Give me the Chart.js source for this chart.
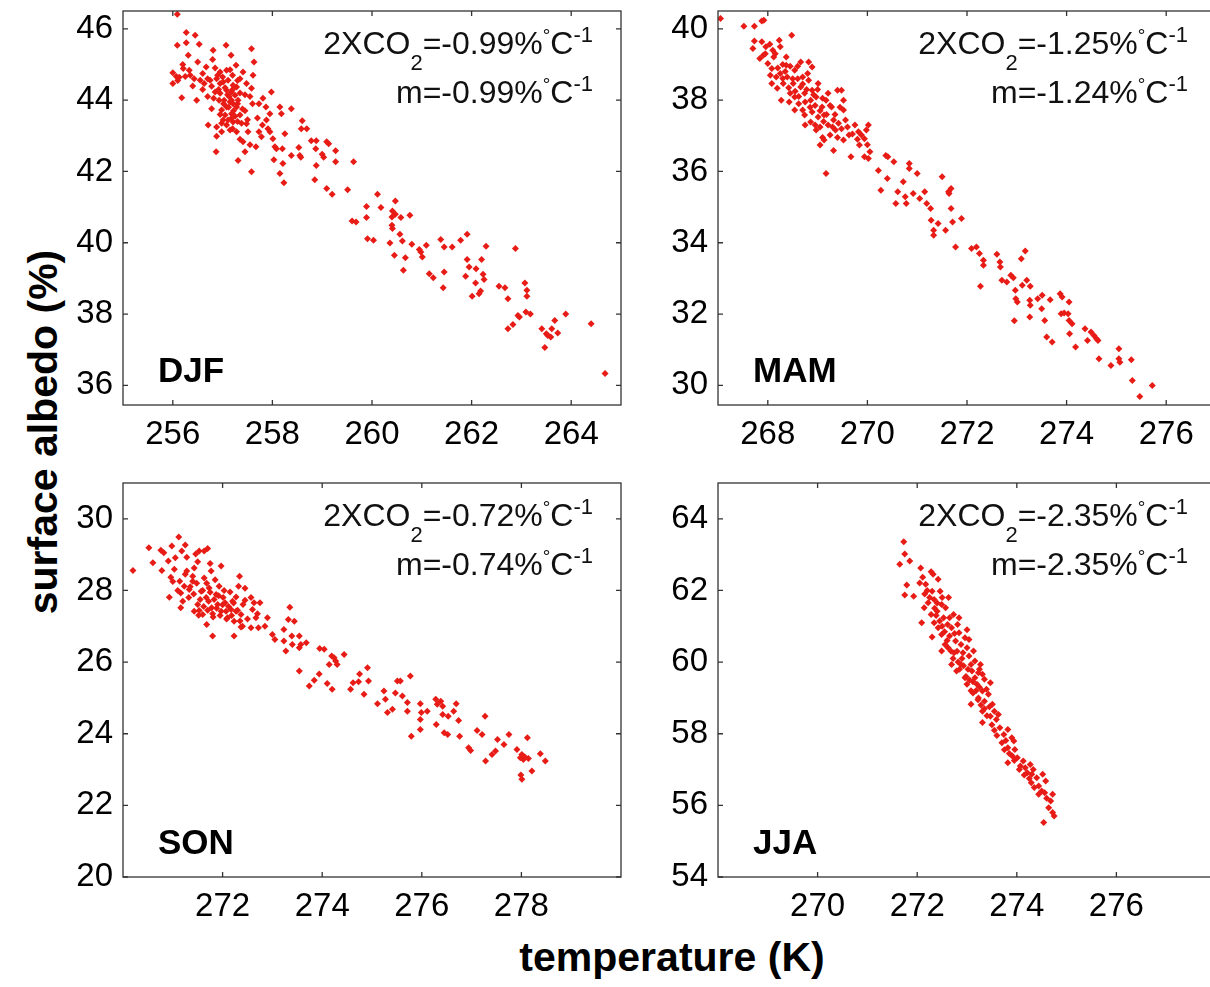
<!DOCTYPE html>
<html>
<head>
<meta charset="utf-8">
<script src="https://cdn.jsdelivr.net/npm/chart.js@4.4.1/dist/chart.umd.min.js"></script>
<style>
  html, body { margin: 0; padding: 0; background: #fff; overflow: hidden; }
  #fig { position: relative; width: 1210px; height: 987px; overflow: hidden; background: #fff; }
  #fig canvas { position: absolute; }
  .axis-title {
    position: absolute;
    font: bold 41px 'Liberation Sans', Arial, sans-serif;
    line-height: 41px;
    white-space: nowrap;
    color: #000;
  }
  #ylab { left: 43px; top: 432px; transform: translate(-50%, -50%) rotate(-90deg); }
  #xlab { left: 672px; top: 957px; transform: translate(-50%, -50%); }
</style>
</head>
<body>
<div id="fig">
  <div class="axis-title" id="ylab">surface albedo (%)</div>
  <div class="axis-title" id="xlab">temperature (K)</div>
</div>
<script>
// tick labels per panel
const djfTicksX = [256, 258, 260, 262, 264];
const djfTicksY = [36, 38, 40, 42, 44, 46];
const mamTicksX = [268, 270, 272, 274, 276];
const mamTicksY = [30, 32, 34, 36, 38, 40];
const sonTicksX = [272, 274, 276, 278];
const sonTicksY = [20, 22, 24, 26, 28, 30];
const jjaTicksX = [270, 272, 274, 276];
const jjaTicksY = [54, 56, 58, 60, 62, 64];

// regression slopes (% per degC)
const co2Slopes = { DJF: '-0.99', MAM: '-1.25', SON: '-0.72', JJA: '-2.35' };
const mSlopes = { DJF: '-0.99', MAM: '-1.24', SON: '-0.74', JJA: '-2.35' };

// [temperature K, surface albedo %]
const djfPoints = [
  [256.09,46.41],[256.27,45.90],[256.45,45.82],[256.09,45.54],[256.27,45.61],[256.53,45.57],[257.07,45.54],[257.58,45.44],
  [256.31,45.26],[257.17,45.26],[256.81,45.40],[257.63,45.07],[256.50,45.07],[256.67,44.93],[256.80,45.14],[256.00,44.77],
  [256.00,44.47],[256.13,44.64],[256.21,44.89],[256.33,44.84],[256.18,44.07],[256.43,44.60],[256.48,44.00],[256.63,44.47],
  [256.78,44.39],[256.95,44.79],[257.01,44.51],[256.85,44.23],[256.93,44.00],[257.08,44.28],[257.18,44.00],[257.28,44.37],
  [257.35,44.60],[257.48,44.47],[257.58,44.33],[257.08,44.84],[257.20,44.70],[257.27,44.98],[257.41,44.79],[257.61,44.70],
  [256.88,44.60],[256.98,43.72],[257.08,43.81],[257.18,43.62],[257.28,43.81],[257.35,43.58],[257.21,43.39],[257.11,43.44],
  [257.05,43.58],[256.78,43.76],[256.71,43.30],[256.88,43.25],[256.98,43.11],[257.15,43.16],[257.28,43.11],[257.48,43.34],
  [257.51,43.11],[257.41,42.83],[256.88,42.99],[256.87,42.55],[257.31,42.31],[257.45,42.55],[257.58,41.99],[257.67,42.69],
  [257.73,43.11],[257.80,43.30],[257.81,44.05],[257.87,43.81],[257.95,43.62],[257.98,44.23],[257.73,43.90],[257.88,43.44],
  [257.91,43.20],[257.95,43.11],[257.78,42.97],[258.01,42.92],[258.05,42.69],[258.08,42.64],[258.15,43.81],[258.18,43.62],
  [258.25,43.06],[258.20,42.64],[258.03,42.33],[258.21,42.22],[258.15,41.94],[258.23,41.68],[258.38,43.76],[258.38,42.45],
  [258.55,42.45],[258.57,42.40],[258.60,43.42],[258.58,43.20],[258.69,43.20],[258.53,42.67],[258.78,42.86],[258.88,42.86],
  [258.87,42.64],[258.88,42.17],[258.85,41.77],[259.00,42.48],[259.03,42.40],[259.09,42.83],[259.13,42.78],[259.27,42.58],
  [259.27,42.27],[259.09,41.52],[259.20,41.36],[259.51,41.49],[259.63,42.27],[259.60,40.61],[259.68,40.58],[259.89,41.02],
  [259.89,40.71],[260.11,41.36],[260.18,40.99],[259.91,40.11],[260.03,40.07],[260.47,41.17],[260.41,40.89],[260.40,40.72],
  [260.47,40.80],[260.40,40.49],[260.41,40.40],[260.58,40.71],[260.76,40.77],[260.56,40.24],[260.61,40.05],[260.36,39.99],
  [260.80,39.96],[260.45,39.65],[260.67,39.58],[260.63,39.23],[260.95,39.81],[260.98,39.74],[261.01,39.60],[261.09,39.93],
  [261.15,39.13],[261.23,39.02],[261.38,40.09],[261.45,39.88],[261.61,39.88],[261.45,39.18],[261.43,38.74],[261.78,40.07],
  [261.91,40.24],[261.91,39.53],[261.95,39.32],[261.88,39.06],[262.09,39.27],[262.20,39.53],[262.23,39.12],[262.25,38.97],
  [262.08,38.87],[262.18,38.65],[262.15,38.57],[262.01,38.50],[262.29,39.90],[262.55,38.78],[262.67,38.74],[262.73,38.43],
  [262.88,39.84],[263.07,38.87],[263.11,38.67],[263.11,38.50],[262.93,37.96],[262.96,37.92],[262.73,37.59],[262.83,37.71],
  [263.09,38.06],[263.18,38.00],[263.41,37.59],[263.47,37.06],[263.50,37.45],[263.53,37.40],[263.59,37.36],[263.61,37.59],
  [263.67,37.82],[263.73,37.47],[263.89,38.00],[264.40,37.73],[264.68,36.33],
  [256.95,44.19],[257.03,44.00],[257.13,44.10],[257.21,43.90],[257.25,44.14],[257.18,44.23],[257.31,44.00],[257.01,43.44],
  [257.18,43.49],[256.95,44.47],[257.11,44.56],[257.21,44.42],[256.75,44.56],[256.55,44.56],[256.25,44.66],[256.07,44.66],
  [256.85,44.90],[256.90,44.70],[256.92,44.30],[257.00,44.65],[257.05,44.35],[257.10,44.15],[257.15,43.95],[257.20,44.30],
  [257.22,43.70],[257.25,43.55],[257.30,43.90],[257.35,44.20],[257.40,43.75],[257.12,43.80],[257.02,43.90],[256.95,43.60],
  [257.08,43.30],[257.30,43.40],[257.38,43.35],[257.45,43.70],[256.82,44.05],[256.70,44.10],[256.60,44.30],[256.40,44.40],
  [256.35,44.70],[256.10,44.55],[256.20,45.00],[256.60,44.75],[256.70,44.60],[257.55,44.10],[257.60,43.90],[257.50,43.45],
  [257.15,44.85],[257.30,44.55],[257.45,44.15],[256.98,43.35],[257.20,43.20],[257.35,42.90],[257.55,42.75],[257.70,43.50]
];

const mamPoints = [
  [267.05,40.29],[267.52,40.07],[267.73,40.07],[267.88,40.22],[267.92,40.24],[267.73,39.66],[267.70,39.45],[267.88,39.64],
  [267.96,39.50],[268.04,39.57],[268.23,39.68],[268.25,39.50],[268.48,39.82],[267.84,39.17],[267.91,39.26],[268.00,39.03],
  [268.12,39.21],[268.08,38.89],[268.37,39.21],[268.37,38.98],[268.54,38.84],[268.66,39.07],[268.82,39.07],[268.89,38.93],
  [268.08,38.47],[268.17,38.65],[268.19,38.33],[268.30,38.61],[268.31,38.47],[268.39,38.65],[268.51,38.47],[268.45,38.19],
  [268.27,38.00],[268.43,37.95],[268.54,38.09],[268.66,38.37],[268.70,38.65],[268.74,38.19],[268.62,37.90],[268.86,38.00],
  [268.89,38.28],[268.97,38.09],[269.01,38.47],[268.82,38.56],[268.54,37.72],[268.70,37.72],[268.74,37.58],[268.89,37.67],
  [268.86,37.39],[269.01,37.53],[269.05,37.25],[268.97,37.16],[269.13,37.58],[269.17,38.00],[269.21,38.19],[269.09,37.81],
  [269.28,37.81],[269.40,38.28],[269.48,38.28],[269.32,37.44],[269.21,37.30],[269.36,37.16],[269.25,37.02],[269.13,36.88],
  [269.05,36.74],[269.17,35.94],[269.52,38.00],[269.52,37.72],[269.56,37.44],[269.48,37.20],[269.63,37.02],[269.52,36.88],
  [269.32,36.59],[269.67,36.41],[269.75,37.30],[269.82,37.11],[269.88,37.02],[269.98,37.16],[270.02,37.30],[269.94,36.92],
  [269.84,36.74],[269.94,36.41],[270.02,36.36],[270.05,36.55],[270.22,36.03],[270.37,36.45],[270.41,36.41],[270.27,35.47],
  [270.40,35.80],[270.53,36.27],[270.61,35.43],[270.57,35.10],[270.72,35.71],[270.76,35.29],[270.78,35.10],[270.84,36.22],
  [270.84,36.08],[271.00,35.94],[270.92,35.38],[271.05,35.24],[271.15,35.43],[271.19,35.10],[271.27,34.96],[271.28,34.63],
  [271.33,34.35],[271.33,34.21],[271.42,34.54],[271.50,35.85],[271.57,34.35],[271.63,35.43],[271.64,35.38],[271.68,34.96],
  [271.71,34.58],[271.68,35.52],[271.89,34.68],[271.77,33.88],[272.09,33.84],[272.19,33.88],[272.25,33.70],[272.33,33.51],
  [272.33,33.37],[272.27,32.78],[272.60,33.68],[272.66,33.46],[272.67,33.32],[272.70,32.95],[272.80,32.90],[272.88,33.09],
  [272.93,33.02],[272.97,32.67],[272.98,32.43],[273.01,32.34],[272.95,31.81],[273.09,33.55],[273.17,33.77],[273.11,32.81],
  [273.20,32.95],[273.27,32.78],[273.26,32.39],[273.27,32.25],[273.26,31.92],[273.42,32.43],[273.51,32.53],[273.50,32.15],
  [273.56,31.82],[273.60,31.36],[273.71,31.22],[273.67,32.40],[273.87,32.57],[273.91,32.48],[273.89,32.01],[273.95,32.03],
  [274.05,32.34],[274.03,32.01],[274.05,31.82],[274.11,31.73],[274.06,31.45],[274.18,31.08],[274.37,31.59],[274.42,31.26],
  [274.49,31.50],[274.55,31.40],[274.60,31.31],[274.63,31.26],[274.65,30.75],[274.89,30.56],[275.05,31.03],[275.05,30.75],
  [275.07,30.65],[275.30,30.72],[275.32,30.14],[275.47,29.69],[275.72,30.00],
  [268.15,39.30],[268.20,38.90],[268.25,38.75],[268.35,38.80],[268.42,38.35],[268.50,38.60],[268.55,38.25],[268.60,38.60],
  [268.62,38.10],[268.70,38.45],[268.75,37.95],[268.78,38.30],[268.80,38.75],[268.85,37.80],[268.92,38.15],[268.95,37.85],
  [269.00,38.30],[269.05,37.70],[269.10,38.05],[269.12,37.40],[269.18,37.60],[269.25,37.85],[269.30,37.25],[269.35,37.60],
  [269.42,37.35],[269.45,37.80],[269.60,37.25],[269.70,37.05],[268.45,38.95],[268.60,38.95],[268.30,39.00],[268.10,39.40],
  [267.95,39.30],[268.05,38.70],[268.95,37.30],[269.10,36.95],[269.40,36.95],[269.80,36.90],[270.00,36.75],[268.75,37.30]
];

const sonPoints = [
  [270.20,28.56],[270.52,29.19],[270.60,28.77],[270.76,29.12],[270.78,28.56],[270.82,29.05],[270.91,28.82],[270.98,29.24],
  [271.12,29.49],[270.93,27.81],[270.96,28.37],[271.03,28.59],[271.05,28.91],[271.18,29.10],[271.25,29.27],[271.28,28.93],
  [271.14,28.26],[271.16,27.93],[271.16,27.52],[271.23,28.12],[271.28,28.54],[271.32,27.80],[271.33,28.03],[271.40,28.26],
  [271.43,28.63],[271.46,29.02],[271.53,29.10],[271.63,29.10],[271.70,29.17],[271.50,27.61],[271.52,27.31],[271.57,27.98],
  [271.63,28.35],[271.67,27.80],[271.68,27.05],[271.77,28.54],[271.73,28.07],[271.78,27.52],[271.81,27.26],[271.60,27.33],
  [271.53,27.44],[271.43,27.42],[271.87,27.89],[271.90,27.61],[271.93,28.12],[271.97,28.68],[271.97,27.42],[271.80,26.73],
  [272.01,27.80],[272.05,27.66],[272.07,27.42],[272.10,27.24],[272.15,27.96],[272.20,27.70],[272.17,27.47],[272.23,27.14],
  [272.27,27.82],[272.32,28.12],[272.34,28.40],[272.27,27.42],[272.37,27.33],[272.37,26.98],[272.23,26.73],[272.41,27.61],
  [272.45,28.06],[272.45,27.73],[272.57,27.80],[272.60,27.47],[272.63,27.66],[272.67,27.24],[272.57,26.96],[272.72,26.96],
  [272.75,27.66],[272.90,27.24],[273.00,26.77],[273.05,26.63],[273.23,26.91],[273.35,27.53],[273.32,27.19],[273.44,27.14],
  [273.23,26.59],[273.27,26.31],[273.39,26.73],[273.40,26.49],[273.54,26.40],[273.54,26.73],[273.57,26.49],[273.54,25.75],
  [273.68,26.54],[273.74,25.33],[273.84,25.49],[273.94,25.67],[273.95,26.38],[274.04,26.36],[274.10,25.40],[274.20,25.24],
  [274.14,25.93],[274.19,26.17],[274.27,26.03],[274.30,25.93],[274.24,26.12],[274.44,26.21],[274.57,25.24],[274.62,25.42],
  [274.73,25.45],[274.75,25.67],[274.84,25.10],[274.91,25.84],[274.93,25.47],[275.11,24.84],[275.24,25.19],[275.27,24.96],
  [275.31,24.59],[275.41,24.68],[275.47,25.14],[275.51,25.47],[275.57,25.47],[275.61,25.05],[275.71,24.87],[275.77,25.61],
  [275.79,23.93],[275.71,24.63],[275.97,24.84],[275.99,24.59],[275.97,24.40],[275.97,24.12],[276.11,24.63],[276.28,24.96],
  [276.31,24.82],[276.29,24.26],[276.38,24.91],[276.42,24.77],[276.42,24.54],[276.45,24.03],[276.52,23.98],[276.53,24.49],
  [276.64,24.63],[276.69,24.84],[276.74,24.37],[276.76,23.93],[276.94,23.61],[276.98,23.53],[277.11,24.09],[277.21,23.98],
  [277.27,24.49],[277.28,23.24],[277.41,23.42],[277.48,23.52],[277.52,23.84],[277.65,23.70],[277.75,23.98],[277.91,23.56],
  [277.98,23.33],[278.01,23.42],[278.04,23.28],[278.07,23.35],[277.99,22.85],[278.01,22.73],[278.12,23.89],[278.21,22.96],
  [278.14,23.31],[278.38,23.44],[278.48,23.24],
  [271.35,28.10],[271.42,27.90],[271.48,28.20],[271.55,27.75],[271.60,28.00],[271.62,27.55],[271.68,28.20],[271.70,27.45],
  [271.72,27.70],[271.75,27.95],[271.80,27.35],[271.83,27.75],[271.85,28.30],[271.88,27.50],[271.92,27.85],[271.95,27.30],
  [272.00,27.60],[272.03,28.00],[272.08,27.20],[272.12,27.55],[272.18,27.30],[272.22,27.65],[272.30,27.45],[272.35,27.15],
  [271.25,28.45],[271.20,27.70],[271.10,28.00],[271.00,28.25],[271.40,28.40],[271.50,28.80],[271.75,28.75],[272.50,27.20],
  [272.40,27.00],[272.85,27.00],[272.70,27.35]
];

const jjaPoints = [
  [271.73,63.36],[271.75,63.02],[271.65,62.73],[271.85,62.82],[271.79,62.15],[271.75,61.87],[271.93,61.84],[272.07,62.63],
  [272.11,62.37],[272.05,62.21],[272.17,62.17],[272.28,62.52],[272.32,62.45],[272.42,62.31],[272.14,61.52],[272.09,61.10],
  [272.22,61.66],[272.30,61.98],[272.34,61.75],[272.46,61.98],[272.49,61.61],[272.40,61.42],[272.28,61.33],[272.34,61.10],
  [272.42,60.96],[272.53,61.24],[272.57,61.52],[272.63,61.80],[272.61,61.05],[272.49,60.77],[272.65,60.73],[272.69,60.96],
  [272.73,61.33],[272.77,60.59],[272.56,60.49],[272.49,60.31],[272.81,61.05],[272.84,60.82],[272.88,60.49],[272.92,60.26],
  [272.74,60.26],[272.69,59.93],[272.79,59.75],[272.96,60.68],[273.00,60.40],[273.04,60.17],[273.08,59.93],[273.13,60.31],
  [273.10,59.75],[272.96,59.56],[273.00,59.38],[273.16,59.56],[273.20,59.38],[273.23,59.70],[273.31,59.66],[273.35,59.52],
  [273.47,59.42],[273.12,59.14],[273.23,59.00],[273.08,58.82],[273.31,59.19],[273.35,58.91],[273.43,59.10],[273.31,58.63],
  [273.47,58.49],[273.55,58.63],[273.59,58.40],[273.63,58.54],[273.31,58.31],[273.66,58.17],[273.74,57.98],[273.78,57.81],
  [273.82,58.12],[273.82,57.61],[273.90,57.89],[273.94,57.80],[273.96,57.56],[273.91,57.38],[273.82,57.19],[274.01,57.33],
  [274.07,57.10],[274.13,57.24],[274.17,57.05],[274.21,56.91],[274.27,57.14],[274.33,57.00],[274.30,56.87],[274.29,56.63],
  [274.40,56.77],[274.44,56.54],[274.52,56.87],[274.58,56.68],[274.56,56.35],[274.44,56.31],[274.72,56.31],[274.64,55.93],
  [274.72,55.80],[274.75,55.70],[274.54,55.52],[274.68,56.12],
  [272.65,61.24],[272.84,61.24],[273.04,60.63],[273.16,60.03],[272.88,59.93],[273.27,59.93],[273.39,59.24],[273.51,58.82],
  [272.20,62.00],[272.25,61.80],[272.35,61.50],[272.38,61.30],[272.45,61.15],[272.50,61.00],[272.55,60.85],[272.60,60.60],
  [272.62,60.40],[272.68,60.30],[272.72,60.10],[272.75,60.80],[272.80,60.30],[272.82,60.00],[272.85,59.80],[272.90,60.10],
  [272.93,59.90],[272.98,59.60],[273.02,59.80],[273.05,59.50],[273.08,59.20],[273.12,59.45],[273.18,59.20],[273.22,58.95],
  [273.25,59.30],[273.28,58.80],[273.35,58.70],[273.40,58.50],[273.45,58.75],[273.50,58.25],[273.55,58.10],[273.60,57.95],
  [273.70,57.75],[273.75,57.55],[273.85,57.45],[273.95,57.25],[274.05,57.00],[274.15,56.85],[274.25,56.75],[274.35,56.50],
  [274.50,56.40],[274.60,56.20],[272.50,61.80],[272.40,61.65],[272.15,61.90],[272.30,60.70],[273.00,60.90],[273.25,59.80]
];

const FAMILY = "'Liberation Sans', Arial, sans-serif";
const RED = 'rgb(232, 28, 22)';
const AXIS = '#333';
const PLOT_W = 498, PLOT_H = 394;
const PAD_L = 100, PAD_T = 30, PAD_R = 30, PAD_B = 60;

const panels = [
  { season: 'DJF', points: djfPoints, xMin: 255, xMax: 265, yMin: 35.45, yMax: 46.5, ticksX: djfTicksX, ticksY: djfTicksY, left: 123, top: 11 },
  { season: 'MAM', points: mamPoints, xMin: 267, xMax: 277, yMin: 29.45, yMax: 40.5, ticksX: mamTicksX, ticksY: mamTicksY, left: 718, top: 11 },
  { season: 'SON', points: sonPoints, xMin: 270, xMax: 280, yMin: 20, yMax: 31, ticksX: sonTicksX, ticksY: sonTicksY, left: 123, top: 483 },
  { season: 'JJA', points: jjaPoints, xMin: 268, xMax: 278, yMin: 54, yMax: 65, ticksX: jjaTicksX, ticksY: jjaTicksY, left: 718, top: 483 },
];

// draws pieces of text of mixed size/offset so that the whole run ends at `right`
function drawRich(ctx, parts, right, base) {
  const widths = parts.map((q) => {
    ctx.font = `${q.size}px ${FAMILY}`;
    return ctx.measureText(q.text).width;
  });
  let x = right - widths.reduce((a, b) => a + b, 0);
  parts.forEach((q, i) => {
    ctx.font = `${q.size}px ${FAMILY}`;
    ctx.fillText(q.text, x, base + (q.dy || 0));
    x += widths[i];
  });
}

const framePlugin = {
  id: 'frame',
  afterDraw(chart, args, opts) {
    const { ctx, chartArea: a } = chart;
    const { x, y } = chart.scales;
    ctx.save();
    ctx.strokeStyle = AXIS;
    ctx.lineWidth = 1.3;
    ctx.strokeRect(a.left, a.top, a.right - a.left, a.bottom - a.top);
    ctx.beginPath();
    x.ticks.forEach((t) => {
      const px = x.getPixelForValue(t.value);
      ctx.moveTo(px, a.bottom); ctx.lineTo(px, a.bottom - 5);
      ctx.moveTo(px, a.top); ctx.lineTo(px, a.top + 5);
    });
    y.ticks.forEach((t) => {
      const py = y.getPixelForValue(t.value);
      ctx.moveTo(a.left, py); ctx.lineTo(a.left + 5, py);
      ctx.moveTo(a.right, py); ctx.lineTo(a.right - 5, py);
    });
    ctx.stroke();

    ctx.fillStyle = '#111';
    ctx.textBaseline = 'alphabetic';
    ctx.textAlign = 'left';
    const right = a.right - 28;
    drawRich(ctx, [
      { text: '2XCO', size: 32 },
      { text: '2', size: 22, dy: 16 },
      { text: '=' + co2Slopes[opts.season] + '%', size: 32 },
      { text: '\u00B0', size: 19, dy: -12 },
      { text: 'C', size: 32 },
      { text: '-1', size: 22, dy: -12 },
    ], right, a.top + 43);
    drawRich(ctx, [
      { text: 'm=' + mSlopes[opts.season] + '%', size: 32 },
      { text: '\u00B0', size: 19, dy: -12 },
      { text: 'C', size: 32 },
      { text: '-1', size: 22, dy: -12 },
    ], right, a.top + 92);

    ctx.fillStyle = '#000';
    ctx.font = `bold 35px ${FAMILY}`;
    ctx.fillText(opts.season, a.left + 35, a.bottom - 23);
    ctx.restore();
  },
};

const fig = document.getElementById('fig');

panels.forEach((p) => {
  const canvas = document.createElement('canvas');
  canvas.width = PAD_L + PLOT_W + PAD_R;
  canvas.height = PAD_T + PLOT_H + PAD_B;
  canvas.style.left = (p.left - PAD_L) + 'px';
  canvas.style.top = (p.top - PAD_T) + 'px';
  fig.appendChild(canvas);

  const tickFont = { family: FAMILY, size: 33 };
  new Chart(canvas, {
    type: 'scatter',
    data: {
      datasets: [{
        data: p.points.map(([t, alb]) => ({ x: t, y: alb })),
        pointStyle: 'rectRot',
        pointRadius: 3.5,
        backgroundColor: RED,
        borderWidth: 0,
      }],
    },
    options: {
      responsive: false,
      animation: false,
      events: [],
      layout: { padding: { top: PAD_T, right: PAD_R, left: 0, bottom: 0 } },
      plugins: {
        legend: { display: false },
        tooltip: { enabled: false },
        frame: { season: p.season },
      },
      scales: {
        x: {
          type: 'linear',
          min: p.xMin,
          max: p.xMax,
          afterBuildTicks: (s) => { s.ticks = p.ticksX.map((v) => ({ value: v })); },
          afterFit: (s) => { s.height = PAD_B; },
          grid: { display: false, drawTicks: false },
          border: { display: false },
          ticks: { color: '#000', font: tickFont, padding: 10, maxRotation: 0 },
        },
        y: {
          type: 'linear',
          min: p.yMin,
          max: p.yMax,
          afterBuildTicks: (s) => { s.ticks = p.ticksY.map((v) => ({ value: v })); },
          afterFit: (s) => { s.width = PAD_L; },
          grid: { display: false, drawTicks: false },
          border: { display: false },
          ticks: { color: '#000', font: tickFont, padding: 10 },
        },
      },
    },
    plugins: [framePlugin],
  });
});
</script>
</body>
</html>
